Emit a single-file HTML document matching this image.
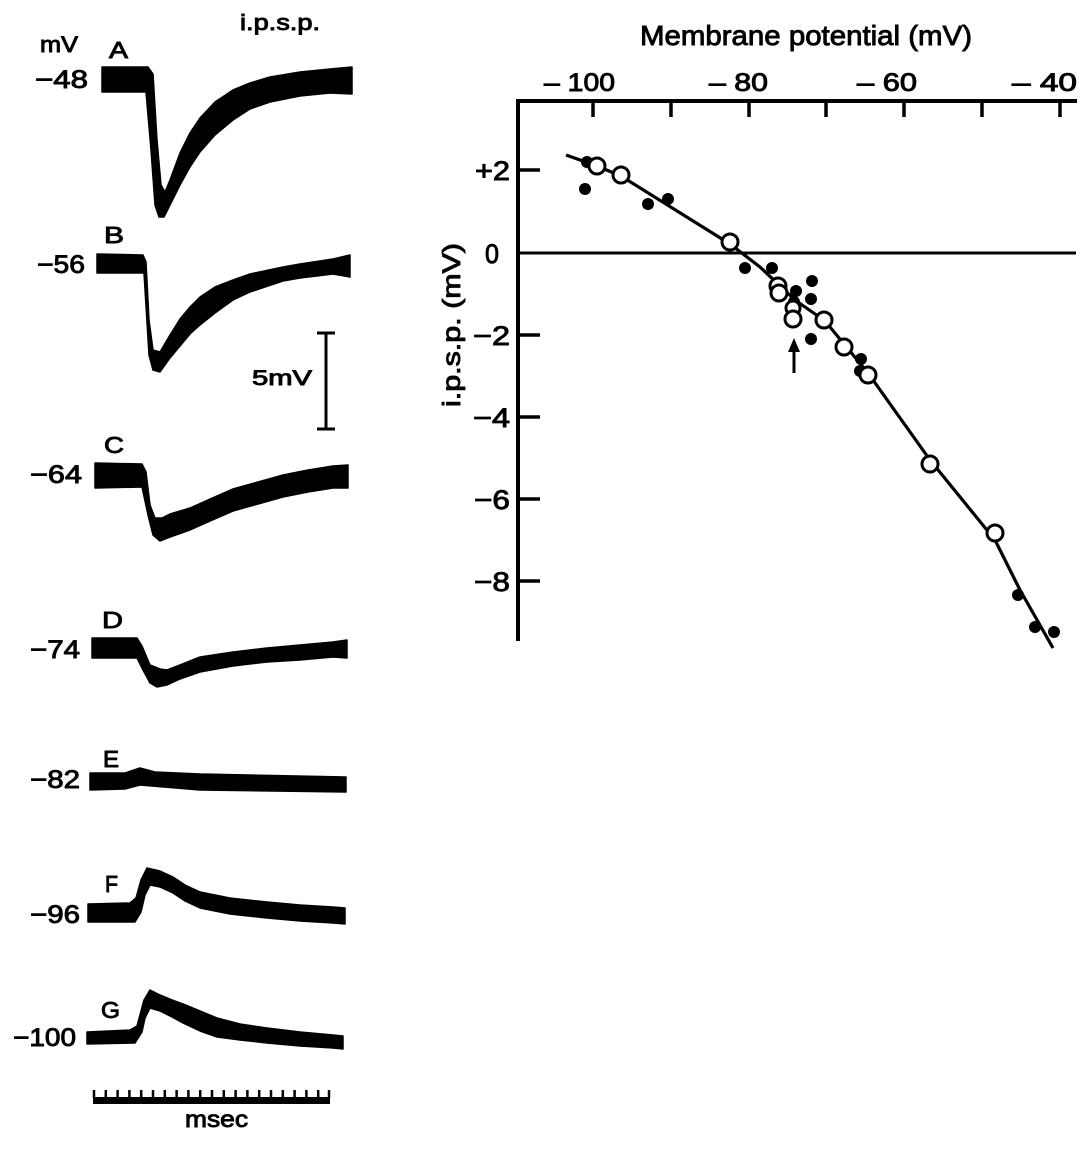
<!DOCTYPE html>
<html><head><meta charset="utf-8"><style>
html,body{margin:0;padding:0;background:#fff;}
svg{display:block;}
text{font-family:"Liberation Sans",sans-serif;fill:#000;stroke:#000;stroke-width:0.9;}
</style></head><body>
<svg width="1087" height="1151" viewBox="0 0 1087 1151" xmlns="http://www.w3.org/2000/svg">
<rect width="1087" height="1151" fill="#fff"/>

<!-- LEFT PANEL LABELS -->
<text x="40" y="52" font-size="22" textLength="38" lengthAdjust="spacingAndGlyphs">mV</text>
<text x="240" y="30" font-size="22" textLength="80" lengthAdjust="spacingAndGlyphs">i.p.s.p.</text>

<text x="35" y="88" font-size="25" textLength="53" lengthAdjust="spacingAndGlyphs">−48</text>
<text x="37" y="273" font-size="25" textLength="48" lengthAdjust="spacingAndGlyphs">−56</text>
<text x="30" y="483" font-size="25" textLength="52" lengthAdjust="spacingAndGlyphs">−64</text>
<text x="30" y="658" font-size="25" textLength="50" lengthAdjust="spacingAndGlyphs">−74</text>
<text x="30" y="788" font-size="25" textLength="50" lengthAdjust="spacingAndGlyphs">−82</text>
<text x="30" y="923" font-size="25" textLength="50" lengthAdjust="spacingAndGlyphs">−96</text>
<text x="13" y="1046" font-size="25" textLength="63" lengthAdjust="spacingAndGlyphs">−100</text>

<text x="109" y="58" font-size="23" textLength="19" lengthAdjust="spacingAndGlyphs">A</text>
<text x="104" y="243" font-size="23" textLength="20" lengthAdjust="spacingAndGlyphs">B</text>
<text x="104" y="453" font-size="23" textLength="20" lengthAdjust="spacingAndGlyphs">C</text>
<text x="102" y="628" font-size="23" textLength="21" lengthAdjust="spacingAndGlyphs">D</text>
<text x="103" y="767" font-size="23" textLength="16" lengthAdjust="spacingAndGlyphs">E</text>
<text x="105" y="892" font-size="23" textLength="13" lengthAdjust="spacingAndGlyphs">F</text>
<text x="101" y="1018" font-size="23" textLength="19" lengthAdjust="spacingAndGlyphs">G</text>

<!-- TRACES -->
<g fill="#000" stroke="#000" stroke-width="1.5" stroke-linejoin="round">
<!-- A -->
<polygon points="102,67 148,67 153,74 157,140 161,185 165,192 170,180 180,153 190,133 200,118 215,102 233,90 250,83 270,77 300,72 330,69 352,67 352,94 330,93 300,96 270,102 250,109 233,120 215,135 200,152 190,167 180,185 170,205 164,217 159,217 155,205 151,150 146,92 102,92"/>
<!-- B -->
<polygon points="97,254 143,255 146,262 149,320 153,350 160,352 170,335 180,319 190,307 200,297 215,287 233,280 250,274 283,267 300,264 333,259 350,255 350,277 333,274 300,278 283,281 250,292 233,300 215,313 200,325 190,334 180,346 170,358 160,372 153,370 149,355 144,273 97,273"/>
<!-- C -->
<polygon points="95,463 142,464 146,472 150,505 155,518 162,518 170,514 190,508 210,499 233,489 258,482 283,475 308,470 333,466 348,465 348,488 333,488 308,492 283,497 258,504 233,511 210,521 190,530 170,537 160,541 153,535 148,515 142,487 95,488"/>
<!-- D -->
<polygon points="92,638 137,638 142,646 150,665 160,669 167,670 180,665 200,657 233,652 267,648 300,645 333,642 347,640 347,658 333,657 300,660 267,662 233,666 200,672 180,679 167,685 157,687 150,683 143,670 137,658 92,658"/>
<!-- E -->
<polygon points="90,773 125,773 140,768 155,772 200,774 346,777 346,792 200,790 140,785 125,789 90,790"/>
<!-- F -->
<polygon points="88,904 130,903 136,898 141,880 147,868 160,871 173,877 185,885 200,892 230,898 267,902 300,905 333,907 345,908 345,924 333,923 300,921 267,918 230,914 200,908 185,901 173,893 160,887 150,885 145,895 141,912 135,922 88,922"/>
<!-- G -->
<polygon points="87,1032 130,1030 137,1026 144,1000 150,990 160,995 172,1000 183,1004 200,1011 217,1018 240,1024 267,1028 300,1032 333,1035 343,1036 343,1049 333,1048 300,1046 267,1043 240,1040 217,1037 200,1031 183,1023 172,1017 160,1011 150,1008 145,1018 142,1032 135,1043 87,1044"/>
</g>

<!-- 5 mV scale bar -->
<g stroke="#000" stroke-width="3" fill="none">
<line x1="326" y1="333" x2="326" y2="429"/>
<line x1="317" y1="333" x2="335" y2="333"/>
<line x1="317" y1="429" x2="335" y2="429"/>
</g>
<text x="252" y="385" font-size="21" textLength="60" lengthAdjust="spacingAndGlyphs">5mV</text>

<!-- time scale -->
<rect x="93" y="1097" width="237" height="7" fill="#000"/>
<g stroke="#000" stroke-width="2.5">
<line x1="94.0" y1="1090" x2="94.0" y2="1098"/>
<line x1="105.8" y1="1090" x2="105.8" y2="1098"/>
<line x1="117.6" y1="1090" x2="117.6" y2="1098"/>
<line x1="129.4" y1="1090" x2="129.4" y2="1098"/>
<line x1="141.2" y1="1090" x2="141.2" y2="1098"/>
<line x1="153.0" y1="1090" x2="153.0" y2="1098"/>
<line x1="164.8" y1="1090" x2="164.8" y2="1098"/>
<line x1="176.6" y1="1090" x2="176.6" y2="1098"/>
<line x1="188.4" y1="1090" x2="188.4" y2="1098"/>
<line x1="200.2" y1="1090" x2="200.2" y2="1098"/>
<line x1="212.0" y1="1090" x2="212.0" y2="1098"/>
<line x1="223.8" y1="1090" x2="223.8" y2="1098"/>
<line x1="235.6" y1="1090" x2="235.6" y2="1098"/>
<line x1="247.4" y1="1090" x2="247.4" y2="1098"/>
<line x1="259.2" y1="1090" x2="259.2" y2="1098"/>
<line x1="271.0" y1="1090" x2="271.0" y2="1098"/>
<line x1="282.8" y1="1090" x2="282.8" y2="1098"/>
<line x1="294.6" y1="1090" x2="294.6" y2="1098"/>
<line x1="306.4" y1="1090" x2="306.4" y2="1098"/>
<line x1="318.2" y1="1090" x2="318.2" y2="1098"/>
<line x1="329.0" y1="1090" x2="329.0" y2="1098"/>
</g>
<text x="185" y="1127" font-size="23" textLength="63" lengthAdjust="spacingAndGlyphs">msec</text>

<!-- RIGHT PLOT -->
<text x="640" y="45" font-size="28" textLength="332" lengthAdjust="spacingAndGlyphs">Membrane potential (mV)</text>

<text x="544" y="91" font-size="25" textLength="71" lengthAdjust="spacingAndGlyphs">– 100</text>
<text x="709" y="91" font-size="25" textLength="59" lengthAdjust="spacingAndGlyphs">– 80</text>
<text x="857" y="91" font-size="25" textLength="60" lengthAdjust="spacingAndGlyphs">– 60</text>
<text x="1012" y="91" font-size="25" textLength="65" lengthAdjust="spacingAndGlyphs">– 40</text>

<g stroke="#000" fill="none">
<line x1="516" y1="101" x2="1077" y2="101" stroke-width="4"/>
<line x1="518" y1="99" x2="518" y2="641" stroke-width="4"/>
<line x1="518" y1="253" x2="1076" y2="253" stroke-width="3"/>
<g stroke-width="3.5">
<line x1="593" y1="101" x2="593" y2="117"/>
<line x1="671" y1="101" x2="671" y2="117"/>
<line x1="749" y1="101" x2="749" y2="117"/>
<line x1="826" y1="101" x2="826" y2="117"/>
<line x1="904" y1="101" x2="904" y2="117"/>
<line x1="982" y1="101" x2="982" y2="117"/>
<line x1="1060" y1="101" x2="1060" y2="117"/>
<line x1="518" y1="170" x2="540" y2="170"/>
<line x1="518" y1="335" x2="540" y2="335"/>
<line x1="518" y1="417" x2="540" y2="417"/>
<line x1="518" y1="499" x2="540" y2="499"/>
<line x1="518" y1="581" x2="540" y2="581"/>
</g>
</g>

<text x="475" y="180" font-size="27" textLength="35" lengthAdjust="spacingAndGlyphs">+2</text>
<text x="485" y="263" font-size="27" textLength="14" lengthAdjust="spacingAndGlyphs">0</text>
<text x="473" y="345" font-size="27" textLength="37" lengthAdjust="spacingAndGlyphs">−2</text>
<text x="473" y="427" font-size="27" textLength="37" lengthAdjust="spacingAndGlyphs">−4</text>
<text x="474" y="509" font-size="27" textLength="36" lengthAdjust="spacingAndGlyphs">−6</text>
<text x="474" y="591" font-size="27" textLength="36" lengthAdjust="spacingAndGlyphs">−8</text>

<text transform="translate(460,325) rotate(-90)" font-size="25" text-anchor="middle" textLength="164" lengthAdjust="spacingAndGlyphs">i.p.s.p. (mV)</text>

<!-- fitted curve -->
<polyline points="566,155 597,166 621,176 730,244 760,267 795,300 825,321 868,373 930,460 995,540 1020,590 1053,648" fill="none" stroke="#000" stroke-width="3.2" stroke-linejoin="round"/>

<!-- filled dots -->
<g fill="#000">
<circle cx="587" cy="162" r="6"/>
<circle cx="585" cy="189" r="6"/>
<circle cx="648" cy="204" r="6"/>
<circle cx="668" cy="199" r="6"/>
<circle cx="745" cy="268" r="6"/>
<circle cx="772" cy="268" r="6"/>
<circle cx="796" cy="291" r="6"/>
<circle cx="794" cy="302" r="6"/>
<circle cx="812" cy="281" r="6"/>
<circle cx="811" cy="299" r="6"/>
<circle cx="811" cy="339" r="6"/>
<circle cx="861" cy="359" r="6"/>
<circle cx="860" cy="371" r="6"/>
<circle cx="1018" cy="595" r="6"/>
<circle cx="1035" cy="627" r="6"/>
<circle cx="1054" cy="632" r="6"/>
</g>

<!-- open circles -->
<g fill="#fff" stroke="#000" stroke-width="3">
<circle cx="597" cy="166" r="8"/>
<circle cx="621" cy="175" r="8"/>
<circle cx="730" cy="242" r="8"/>
<circle cx="778" cy="286" r="8"/>
<circle cx="779" cy="293" r="8"/>
<circle cx="793" cy="308" r="7"/>
<circle cx="793" cy="319" r="8"/>
<circle cx="824" cy="320" r="8"/>
<circle cx="844" cy="347" r="8"/>
<circle cx="868" cy="375" r="8"/>
<circle cx="930" cy="464" r="8"/>
<circle cx="995" cy="533" r="8"/>
</g>

<!-- arrow -->
<line x1="794" y1="373" x2="794" y2="348" stroke="#000" stroke-width="3"/>
<polygon points="794,338 788,352 800,352" fill="#000"/>
</svg>
</body></html>
